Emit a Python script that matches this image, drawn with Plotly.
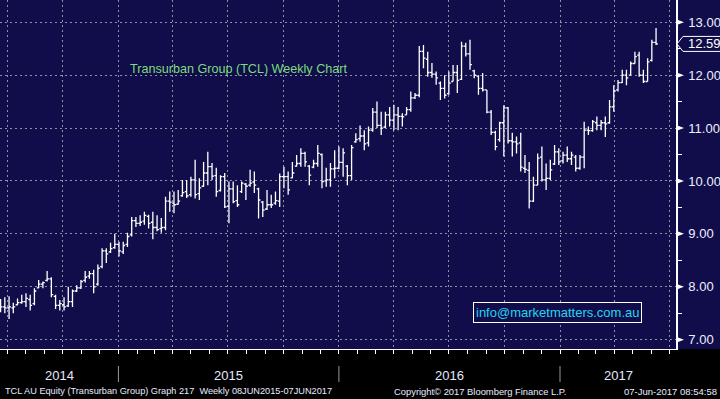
import pandas as pd
import plotly.graph_objects as go

# ---------------- data (weekly OHLC, TCL AU) ----------------
opens = [7.70, 7.62, 7.60, 7.60, 7.66, 7.70, 7.72, 7.76, 7.68, 7.98,
         8.05, 8.12, 8.15, 7.82, 7.65, 7.66, 7.64, 7.72, 7.92, 7.98,
         8.12, 8.20, 8.25, 8.05, 8.38, 8.68, 8.66, 8.74, 8.80, 8.66,
         8.80, 8.98, 9.25, 9.20, 9.24, 9.33, 9.22, 9.12, 9.10,
         9.12, 9.62, 9.58, 9.56, 9.72, 9.80, 9.74, 10.02, 9.76, 9.90,
         10.15, 10.27, 10.10, 9.82, 10.08, 9.52, 9.85, 9.63, 9.80, 9.94,
         9.92, 9.98, 9.85, 9.60, 9.47, 9.55, 9.58, 9.62, 10.08, 10.08,
         10.06, 10.28, 10.33, 10.52, 10.28, 10.26, 10.33, 10.50, 10.00, 10.02,
         10.23, 10.24, 10.35, 10.28, 10.10, 10.74, 10.80, 10.85, 10.72, 10.96,
         11.30, 11.05, 11.02, 11.25, 11.15, 11.25, 11.22, 11.25, 11.35, 11.57,
         11.62, 12.45, 12.30, 12.05, 12.02, 11.85, 11.75, 11.65, 11.88, 12.05,
         11.92, 12.55, 12.40, 12.08, 11.98, 11.75, 11.72, 11.30, 10.92,
         10.78, 11.10, 11.38, 10.76, 10.74, 10.72, 10.24, 10.20, 9.62, 9.92,
         10.45, 10.02, 10.05, 10.32, 10.55, 10.38, 10.49, 10.42, 10.45, 10.24,
         10.45, 10.96, 10.95, 11.10, 11.05, 11.10, 11.10, 11.40, 11.72, 11.86,
         12.00, 12.00, 12.22, 12.38, 12.00, 11.88, 12.28, 12.62]

highs = [7.77, 7.80, 7.82, 7.70, 7.78, 7.85, 7.88, 7.85, 7.97, 8.13,
         8.10, 8.30, 8.18, 7.85, 7.75, 7.80, 8.00, 7.95, 8.03, 8.13,
         8.30, 8.30, 8.32, 8.42, 8.73, 8.73, 8.83, 9.00, 8.85, 8.85,
         9.02, 9.32, 9.32, 9.35, 9.42, 9.36, 9.42, 9.35, 9.30,
         9.70, 9.80, 9.80, 9.83, 10.02, 10.02, 10.08, 10.40, 10.05, 10.36,
         10.55, 10.34, 10.25, 10.11, 10.15, 9.99, 9.99, 9.92, 9.99, 9.96,
         10.21, 10.18, 9.87, 9.62, 9.83, 9.74, 9.80, 10.14, 10.27, 10.18,
         10.36, 10.49, 10.62, 10.55, 10.30, 10.40, 10.68, 10.52, 10.25, 10.34,
         10.58, 10.65, 10.62, 10.30, 10.68, 10.90, 11.05, 10.96, 11.03, 11.38,
         11.50, 11.31, 11.31, 11.40, 11.44, 11.40, 11.28, 11.40, 11.69, 11.66,
         12.55, 12.57, 12.44, 12.23, 12.07, 11.88, 12.00, 12.07, 12.19, 12.19,
         12.63, 12.61, 12.67, 12.10, 12.00, 12.04, 11.72, 11.34, 10.95,
         11.12, 11.43, 11.40, 10.91, 10.84, 10.91, 10.49, 10.36, 10.08, 10.52,
         10.65, 10.33, 10.40, 10.68, 10.62, 10.55, 10.65, 10.55, 10.49, 10.49,
         11.12, 11.03, 11.15, 11.22, 11.15, 11.22, 11.53, 11.81, 11.91, 12.10,
         12.10, 12.26, 12.44, 12.44, 12.10, 12.32, 12.67, 12.89]

lows = [7.52, 7.50, 7.39, 7.50, 7.65, 7.68, 7.62, 7.55, 7.65, 7.97,
        7.97, 8.10, 7.80, 7.58, 7.55, 7.55, 7.62, 7.62, 7.90, 7.96,
        8.08, 8.15, 7.88, 8.02, 8.35, 8.45, 8.64, 8.72, 8.57, 8.62,
        8.75, 8.95, 9.13, 9.15, 9.17, 9.10, 8.90, 9.05, 9.02,
        9.07, 9.42, 9.39, 9.55, 9.70, 9.68, 9.70, 9.67, 9.64, 9.89,
        9.92, 10.02, 9.70, 9.80, 9.49, 9.20, 9.58, 9.51, 9.77, 9.64,
        9.89, 9.77, 9.29, 9.32, 9.45, 9.49, 9.55, 9.51, 9.86, 9.74,
        10.05, 10.27, 10.27, 10.27, 9.92, 10.24, 10.27, 9.86, 9.89, 9.89,
        10.05, 10.22, 10.08, 9.92, 10.02, 10.72, 10.74, 10.58, 10.65, 10.93,
        11.00, 10.87, 11.00, 11.03, 10.96, 10.96, 11.03, 11.25, 11.31, 11.55,
        11.58, 12.13, 11.97, 11.95, 11.82, 11.53, 11.56, 11.63, 11.88, 11.66,
        11.91, 12.35, 12.10, 11.94, 11.63, 11.69, 11.28, 10.87, 10.58,
        10.74, 10.46, 10.71, 10.46, 10.52, 10.18, 10.15, 9.48, 9.60, 9.92,
        9.99, 9.83, 10.02, 10.30, 10.30, 10.33, 10.36, 10.30, 10.18, 10.21,
        10.24, 10.87, 10.93, 10.96, 10.96, 10.83, 11.08, 11.31, 11.69, 11.85,
        11.81, 12.00, 12.22, 11.97, 11.85, 11.88, 12.26, 12.57]

closes = [7.62, 7.60, 7.62, 7.62, 7.70, 7.72, 7.78, 7.65, 7.92, 8.05,
          8.08, 8.15, 7.85, 7.65, 7.68, 7.62, 7.72, 7.92, 7.98, 8.10,
          8.18, 8.25, 8.00, 8.35, 8.68, 8.62, 8.72, 8.80, 8.68, 8.78,
          8.95, 9.25, 9.20, 9.22, 9.35, 9.20, 9.12, 9.08, 9.12,
          9.62, 9.60, 9.55, 9.62, 9.78, 9.72, 10.02, 9.74, 9.87, 10.15,
          10.27, 10.09, 9.80, 10.08, 9.51, 9.85, 9.61, 9.55, 9.96, 9.90,
          9.96, 9.92, 9.64, 9.45, 9.55, 9.55, 9.63, 10.08, 10.08, 9.83,
          10.15, 10.33, 10.52, 10.36, 10.11, 10.33, 10.52, 9.99, 10.02, 10.23,
          10.24, 10.35, 10.53, 10.10, 10.63, 10.78, 10.85, 10.70, 10.96, 11.30,
          11.05, 11.00, 11.25, 11.15, 11.25, 11.22, 11.21, 11.35, 11.57, 11.62,
          12.45, 12.32, 12.05, 12.02, 11.95, 11.75, 11.62, 11.85, 12.05, 11.90,
          12.55, 12.40, 12.20, 12.00, 11.75, 11.72, 11.30, 10.92, 10.65,
          11.10, 11.38, 10.76, 10.74, 10.70, 10.26, 10.22, 9.62, 9.92, 10.43,
          10.02, 10.05, 10.21, 10.55, 10.36, 10.49, 10.42, 10.49, 10.24, 10.45,
          10.96, 10.95, 11.12, 11.05, 11.10, 11.08, 11.40, 11.70, 11.86, 12.00,
          11.95, 12.22, 12.35, 12.00, 11.88, 12.25, 12.62, 12.59]

first_week = "2014-06-20"
dates = pd.date_range(first_week, periods=len(closes), freq="7D")

y_tick_vals = [7, 8, 9, 10, 11, 12, 13]
y_tick_text = ["7.00", "8.00", "9.00", "10.00", "11.00", "12.00", "13.00"]
year_labels = ["2014", "2015", "2016", "2017"]

title_text = "Transurban Group (TCL) Weekly Chart"
email_text = "info@marketmatters.com.au"
footer_left = "TCL AU Equity (Transurban Group) Graph 217  Weekly 08JUN2015-07JUN2017"
footer_mid = "Copyright\u00a9 2017 Bloomberg Finance L.P."
footer_right = "07-Jun-2017 08:54:58"

# ---------------- layout constants ----------------
W, H = 720, 399
PLOT_W, PLOT_H = 676, 349
NAVY = "#100d4a"
GRID = "#8e8ea4"
FONT = "Liberation Sans"
x_start = pd.Timestamp("2014-06-19")
x_end = pd.Timestamp("2017-07-12")
y_lo, y_hi = 6.824, 13.42
y_per_px = (y_hi - y_lo) / PLOT_H


def px_x(px):
    return px / PLOT_W


def px_y(py):
    return (PLOT_H - py) / PLOT_H


fig = go.Figure()
fig.add_trace(go.Ohlc(
    x=dates, open=opens, high=highs, low=lows, close=closes,
    increasing=dict(line=dict(color="white", width=1.3)),
    decreasing=dict(line=dict(color="white", width=1.3)),
    tickwidth=0.45, hoverinfo="skip", showlegend=False,
))

quarters = pd.date_range("2014-07-01", "2017-07-01", freq="QS")
months = pd.date_range("2014-07-01", "2017-07-01", freq="MS")
minor_y = [v + 0.5 for v in y_tick_vals[:-1]]

shapes = []
shapes.append(dict(type="rect", xref="paper", yref="paper", x0=1, x1=W / PLOT_W,
                   y0=0, y1=1, fillcolor=NAVY, line=dict(width=0), layer="below"))
for v in y_tick_vals:
    d = 3 * y_per_px
    shapes.append(dict(type="path", xref="paper", yref="y",
                       path=f"M {px_x(PLOT_W)},{v + d} L {px_x(PLOT_W + 8)},{v} L {px_x(PLOT_W)},{v - d} Z",
                       fillcolor="white", line=dict(width=0), layer="above"))
last = closes[-1]
h = 7.5 * y_per_px
shapes.append(dict(type="path", xref="paper", yref="y",
                   path=(f"M {px_x(PLOT_W + 1)},{last} L {px_x(PLOT_W + 7)},{last + h} "
                         f"L {px_x(W + 5)},{last + h} L {px_x(W + 5)},{last - h} "
                         f"L {px_x(PLOT_W + 7)},{last - h} Z"),
                   fillcolor=NAVY, line=dict(color="white", width=1), layer="above"))
year_starts = [pd.Timestamp(f"{y}-01-01") for y in year_labels[1:]]
for ys in year_starts:
    shapes.append(dict(type="line", xref="x", yref="paper", x0=ys, x1=ys,
                       y0=px_y(366), y1=px_y(382), line=dict(color="#9a9a9a", width=1)))

annotations = []
bounds = [x_start] + year_starts + [x_end]
for i, lab in enumerate(year_labels):
    mid = bounds[i] + (bounds[i + 1] - bounds[i]) / 2
    annotations.append(dict(x=mid, y=px_y(375), xref="x", yref="paper", text=lab,
                            showarrow=False, font=dict(family=FONT, size=13, color="#e4e8ff"),
                            xanchor="center", yanchor="middle"))
annotations.append(dict(x=px_x(128), y=px_y(69), xref="paper", yref="paper", text=title_text,
                        showarrow=False, xanchor="left", yanchor="middle",
                        font=dict(family=FONT, size=12.6, color="#7ddc7d")))
annotations.append(dict(x=px_x(557), y=px_y(312), xref="paper", yref="paper", text=email_text,
                        showarrow=False, xanchor="center", yanchor="middle",
                        font=dict(family=FONT, size=13, color="#22d6f0"),
                        bordercolor="white", borderwidth=1, borderpad=2, bgcolor=NAVY))
annotations.append(dict(x=px_x(686), y=last, xref="paper", yref="y", text=f"{last:.2f}",
                        showarrow=False, xanchor="left", yanchor="middle",
                        font=dict(family=FONT, size=13, color="white")))
annotations.append(dict(x=px_x(3), y=px_y(391), xref="paper", yref="paper", text=footer_left,
                        showarrow=False, xanchor="left", yanchor="middle",
                        font=dict(family=FONT, size=9.2, color="#e8ecff")))
annotations.append(dict(x=px_x(392), y=px_y(391), xref="paper", yref="paper", text=footer_mid,
                        showarrow=False, xanchor="left", yanchor="middle",
                        font=dict(family=FONT, size=9.4, color="#e8ecff")))
annotations.append(dict(x=px_x(719), y=px_y(391), xref="paper", yref="paper", text=footer_right,
                        showarrow=False, xanchor="right", yanchor="middle",
                        font=dict(family=FONT, size=9.5, color="#e8ecff")))

fig.update_layout(
    width=W, height=H,
    margin=dict(l=0, r=W - PLOT_W, t=0, b=H - PLOT_H),
    paper_bgcolor="black", plot_bgcolor=NAVY,
    showlegend=False,
    shapes=shapes, annotations=annotations,
    xaxis=dict(
        type="date", range=[x_start, x_end], rangeslider=dict(visible=False),
        tickmode="array", tickvals=quarters, showticklabels=False,
        ticks="outside", ticklen=4, tickcolor="white", tickwidth=1,
        minor=dict(tickmode="array", tickvals=months, ticks="outside", ticklen=4,
                   tickcolor="white", tickwidth=1, showgrid=False),
        showgrid=True, gridcolor=GRID, griddash="2px,3px", gridwidth=1,
        showline=True, linecolor="white", linewidth=1, zeroline=False,
    ),
    yaxis=dict(
        side="right", range=[y_lo, y_hi],
        tickmode="array", tickvals=y_tick_vals, ticktext=y_tick_text,
        ticks="", ticklabelstandoff=8,
        tickfont=dict(family=FONT, size=13, color="#eef0ff"),
        minor=dict(tickmode="array", tickvals=minor_y, ticks="outside", ticklen=4,
                   tickcolor="white", tickwidth=1, showgrid=False),
        showgrid=True, gridcolor=GRID, griddash="2px,3px", gridwidth=1,
        showline=True, linecolor="white", linewidth=1.5, zeroline=False,
    ),
)

fig.write_html("out.html", config={"displayModeBar": False},
               post_script="document.body.style.margin='0';document.body.style.padding='0';"
                           "document.body.style.background='black';")
